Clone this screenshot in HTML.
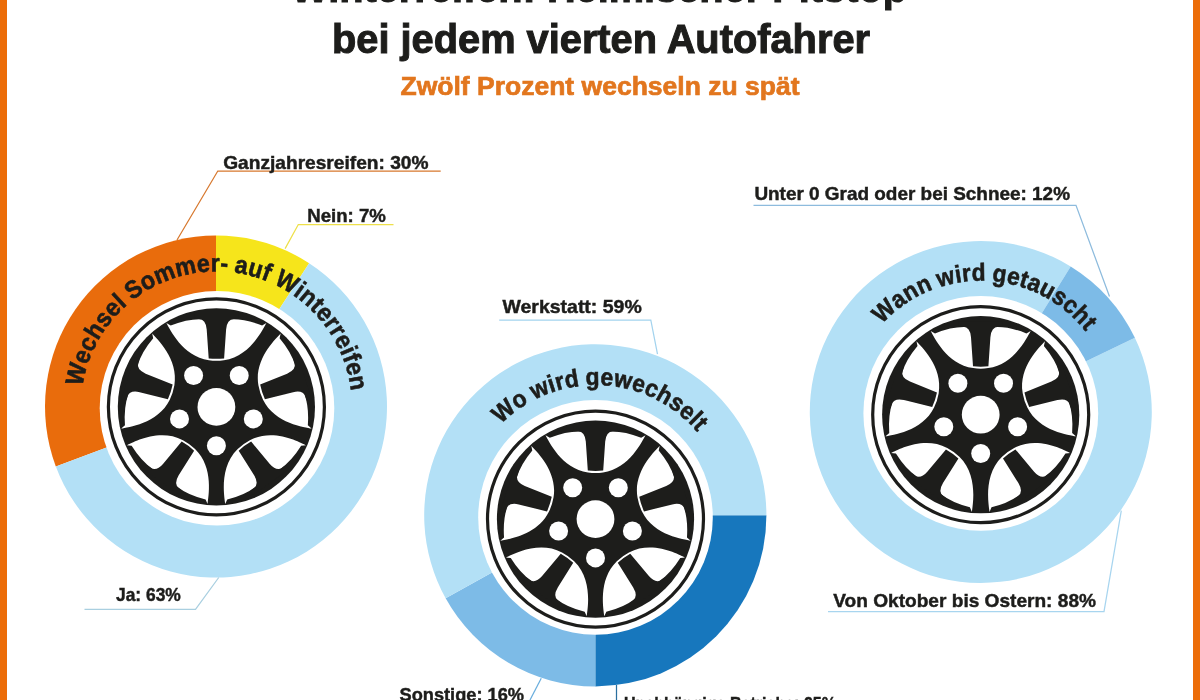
<!DOCTYPE html>
<html><head><meta charset="utf-8"><style>
html,body{margin:0;padding:0;background:#fff;width:1200px;height:700px;overflow:hidden}
svg{display:block;will-change:transform;font-family:"Liberation Sans",sans-serif;font-weight:bold}
</style></head><body>
<svg width="1200" height="700" viewBox="0 0 1200 700">

<defs>
<path id="winP" d="M50,-83.8 C46.95,-78.57 34.17,-50.39 7.5,-46.6 Q0,-45.5 -7.5,-46.6 C-34.17,-50.39 -46.95,-78.57 -50,-83.8 L-45.7,-81.3 Q-28.95,-88.1 -15.2,-87.7 L15.2,-87.7 Q28.95,-88.1 45.7,-81.3 Z"/>
<path id="spk" d="M-22,-93 L22,-93 L22,-87.9 L17.5,-87.9 Q10.6,-87.6 9.7,-77.5 L7.7,-48.5 Q0,-47.6 -7.7,-48.5 L-9.7,-77.5 Q-10.6,-87.6 -17.5,-87.9 L-22,-87.9 Z"/>
<g id="wheel">
<circle r="108" fill="none" stroke="#1d1d1b" stroke-width="3.2"/>
<circle r="98.6" fill="#1d1d1b"/>
<g fill="#fff">
<use href="#winP" transform="rotate(0)"/>
<use href="#winP" transform="rotate(72)"/>
<use href="#winP" transform="rotate(144)"/>
<use href="#winP" transform="rotate(216)"/>
<use href="#winP" transform="rotate(288)"/>
</g>
<g fill="#1d1d1b">
<use href="#spk" transform="rotate(0)"/>
<use href="#spk" transform="rotate(72)"/>
<use href="#spk" transform="rotate(144)"/>
<use href="#spk" transform="rotate(216)"/>
<use href="#spk" transform="rotate(288)"/>
</g>
<g fill="#fff">
<circle r="18.9"/>
<circle cx="22.81" cy="-31.39" r="9.5"/>
<circle cx="36.90" cy="11.99" r="9.5"/>
<circle cx="0.00" cy="38.80" r="9.5"/>
<circle cx="-36.90" cy="11.99" r="9.5"/>
<circle cx="-22.81" cy="-31.39" r="9.5"/>
</g>
</g>
</defs>

<path d="M216.00,406.60 L55.83,466.49 A171,171 0 0 1 216.00,235.60 Z" fill="#e96c0c"/>
<path d="M216.00,406.60 L216.00,235.60 A171,171 0 0 1 309.13,263.19 Z" fill="#f6e51b"/>
<path d="M216.00,406.60 L309.13,263.19 A171,171 0 1 1 55.83,466.49 Z" fill="#b3e0f6"/>
<circle cx="217" cy="408.3" r="117.3" fill="#fff"/>
<use href="#wheel" transform="translate(216.4,406.9)"/>
<path d="M595.30,515.30 L766.40,515.30 A171.1,171.1 0 0 1 595.30,686.40 Z" fill="#1777bd"/>
<path d="M595.30,515.30 L595.30,686.40 A171.1,171.1 0 0 1 445.65,598.25 Z" fill="#7dbbe7"/>
<path d="M595.30,515.30 L445.65,598.25 A171.1,171.1 0 1 1 766.40,515.30 Z" fill="#b3e0f6"/>
<circle cx="595.5" cy="517.4" r="117.3" fill="#fff"/>
<use href="#wheel" transform="translate(595.5,519.1)"/>
<path d="M980.80,412.00 L1134.88,337.84 A171,171 0 1 1 1070.66,266.51 Z" fill="#b3e0f6"/>
<path d="M980.80,412.00 L1070.66,266.51 A171,171 0 0 1 1134.88,337.84 Z" fill="#7dbbe7"/>
<circle cx="980.8" cy="413.4" r="117.4" fill="#fff"/>
<use href="#wheel" transform="translate(980.7,414.7)"/>
<g fill="#1d1d1b" stroke="#1d1d1b" stroke-width="0.6">
<text transform="translate(84.45,376.10) rotate(-76.86) scale(0.930,1)" text-anchor="middle" font-size="25">W</text>
<text transform="translate(89.58,359.19) rotate(-69.38) scale(0.930,1)" text-anchor="middle" font-size="25">e</text>
<text transform="translate(94.81,347.10) rotate(-63.81) scale(0.930,1)" text-anchor="middle" font-size="25">c</text>
<text transform="translate(101.53,335.04) rotate(-57.97) scale(0.930,1)" text-anchor="middle" font-size="25">h</text>
<text transform="translate(109.43,323.72) rotate(-52.13) scale(0.930,1)" text-anchor="middle" font-size="25">s</text>
<text transform="translate(118.02,313.73) rotate(-46.56) scale(0.930,1)" text-anchor="middle" font-size="25">e</text>
<text transform="translate(125.11,306.77) rotate(-42.36) scale(0.930,1)" text-anchor="middle" font-size="25">l</text>
<text transform="translate(138.34,296.15) rotate(-35.18) scale(0.930,1)" text-anchor="middle" font-size="25">S</text>
<text transform="translate(151.14,288.15) rotate(-28.79) scale(0.930,1)" text-anchor="middle" font-size="25">o</text>
<text transform="translate(167.15,280.67) rotate(-21.32) scale(0.930,1)" text-anchor="middle" font-size="25">m</text>
<text transform="translate(187.14,274.60) rotate(-12.47) scale(0.930,1)" text-anchor="middle" font-size="25">m</text>
<text transform="translate(203.97,271.97) rotate(-5.26) scale(0.930,1)" text-anchor="middle" font-size="25">e</text>
<text transform="translate(215.19,271.41) rotate(-0.51) scale(0.930,1)" text-anchor="middle" font-size="25">r</text>
<text transform="translate(223.83,271.60) rotate(3.14) scale(0.930,1)" text-anchor="middle" font-size="25">-</text>
<text transform="translate(240.04,273.48) rotate(10.05) scale(0.930,1)" text-anchor="middle" font-size="25">a</text>
<text transform="translate(253.49,276.58) rotate(15.89) scale(0.930,1)" text-anchor="middle" font-size="25">u</text>
<text transform="translate(264.14,280.09) rotate(20.63) scale(0.930,1)" text-anchor="middle" font-size="25">f</text>
<text transform="translate(283.00,288.90) rotate(29.44) scale(0.930,1)" text-anchor="middle" font-size="25">W</text>
<text transform="translate(295.18,296.66) rotate(35.55) scale(0.930,1)" text-anchor="middle" font-size="25">i</text>
<text transform="translate(303.54,303.14) rotate(40.02) scale(0.930,1)" text-anchor="middle" font-size="25">n</text>
<text transform="translate(311.82,310.70) rotate(44.77) scale(0.930,1)" text-anchor="middle" font-size="25">t</text>
<text transform="translate(319.04,318.44) rotate(49.24) scale(0.930,1)" text-anchor="middle" font-size="25">e</text>
<text transform="translate(326.01,327.24) rotate(53.99) scale(0.930,1)" text-anchor="middle" font-size="25">r</text>
<text transform="translate(331.21,334.94) rotate(57.92) scale(0.930,1)" text-anchor="middle" font-size="25">r</text>
<text transform="translate(336.78,344.69) rotate(62.67) scale(0.930,1)" text-anchor="middle" font-size="25">e</text>
<text transform="translate(341.01,353.69) rotate(66.88) scale(0.930,1)" text-anchor="middle" font-size="25">i</text>
<text transform="translate(343.71,360.52) rotate(69.98) scale(0.930,1)" text-anchor="middle" font-size="25">f</text>
<text transform="translate(346.94,370.59) rotate(74.46) scale(0.930,1)" text-anchor="middle" font-size="25">e</text>
<text transform="translate(349.96,384.06) rotate(80.30) scale(0.930,1)" text-anchor="middle" font-size="25">n</text>
<text transform="translate(508.65,417.06) rotate(-40.40) scale(0.930,1)" text-anchor="middle" font-size="24.5">W</text>
<text transform="translate(523.11,406.34) rotate(-32.70) scale(0.930,1)" text-anchor="middle" font-size="24.5">o</text>
<text transform="translate(542.34,396.10) rotate(-23.37) scale(0.930,1)" text-anchor="middle" font-size="24.5">w</text>
<text transform="translate(553.87,391.73) rotate(-18.10) scale(0.930,1)" text-anchor="middle" font-size="24.5">i</text>
<text transform="translate(561.44,389.50) rotate(-14.72) scale(0.930,1)" text-anchor="middle" font-size="24.5">r</text>
<text transform="translate(572.87,387.02) rotate(-9.72) scale(0.930,1)" text-anchor="middle" font-size="24.5">d</text>
<text transform="translate(592.67,385.13) rotate(-1.21) scale(0.930,1)" text-anchor="middle" font-size="24.5">g</text>
<text transform="translate(606.26,385.53) rotate(4.60) scale(0.930,1)" text-anchor="middle" font-size="24.5">e</text>
<text transform="translate(621.60,387.67) rotate(11.23) scale(0.930,1)" text-anchor="middle" font-size="24.5">w</text>
<text transform="translate(636.60,391.56) rotate(17.86) scale(0.930,1)" text-anchor="middle" font-size="24.5">e</text>
<text transform="translate(648.73,396.13) rotate(23.41) scale(0.930,1)" text-anchor="middle" font-size="24.5">c</text>
<text transform="translate(660.91,402.15) rotate(29.22) scale(0.930,1)" text-anchor="middle" font-size="24.5">h</text>
<text transform="translate(672.42,409.38) rotate(35.03) scale(0.930,1)" text-anchor="middle" font-size="24.5">s</text>
<text transform="translate(682.67,417.33) rotate(40.58) scale(0.930,1)" text-anchor="middle" font-size="24.5">e</text>
<text transform="translate(689.88,423.97) rotate(44.77) scale(0.930,1)" text-anchor="middle" font-size="24.5">l</text>
<text transform="translate(694.89,429.22) rotate(47.88) scale(0.930,1)" text-anchor="middle" font-size="24.5">t</text>
<text transform="translate(889.31,316.70) rotate(-43.00) scale(0.930,1)" text-anchor="middle" font-size="24.5">W</text>
<text transform="translate(902.73,305.72) rotate(-35.58) scale(0.930,1)" text-anchor="middle" font-size="24.5">a</text>
<text transform="translate(914.14,298.40) rotate(-29.78) scale(0.930,1)" text-anchor="middle" font-size="24.5">n</text>
<text transform="translate(926.79,292.02) rotate(-23.72) scale(0.930,1)" text-anchor="middle" font-size="24.5">n</text>
<text transform="translate(947.32,284.92) rotate(-14.43) scale(0.930,1)" text-anchor="middle" font-size="24.5">w</text>
<text transform="translate(959.34,282.41) rotate(-9.17) scale(0.930,1)" text-anchor="middle" font-size="24.5">i</text>
<text transform="translate(967.14,281.39) rotate(-5.81) scale(0.930,1)" text-anchor="middle" font-size="24.5">r</text>
<text transform="translate(978.77,280.71) rotate(-0.82) scale(0.930,1)" text-anchor="middle" font-size="24.5">d</text>
<text transform="translate(998.55,281.89) rotate(7.66) scale(0.930,1)" text-anchor="middle" font-size="24.5">g</text>
<text transform="translate(1011.88,284.38) rotate(13.45) scale(0.930,1)" text-anchor="middle" font-size="24.5">e</text>
<text transform="translate(1021.88,287.19) rotate(17.90) scale(0.930,1)" text-anchor="middle" font-size="24.5">t</text>
<text transform="translate(1031.64,290.76) rotate(22.34) scale(0.930,1)" text-anchor="middle" font-size="24.5">a</text>
<text transform="translate(1043.90,296.54) rotate(28.14) scale(0.930,1)" text-anchor="middle" font-size="24.5">u</text>
<text transform="translate(1055.51,303.53) rotate(33.94) scale(0.930,1)" text-anchor="middle" font-size="24.5">s</text>
<text transform="translate(1065.88,311.26) rotate(39.47) scale(0.930,1)" text-anchor="middle" font-size="24.5">c</text>
<text transform="translate(1075.89,320.39) rotate(45.27) scale(0.930,1)" text-anchor="middle" font-size="24.5">h</text>
<text transform="translate(1083.32,328.53) rotate(49.98) scale(0.930,1)" text-anchor="middle" font-size="24.5">t</text>
</g>
<path d="M440.7,171 L217.8,171 L177,240" fill="none" stroke="#d7782e" stroke-width="1.25"/>
<path d="M393.5,224.5 L298.3,224.5 L285.1,248.6" fill="none" stroke="#eee04a" stroke-width="1.25"/>
<path d="M84.5,609.3 L195.5,609.3 L218.75,577.5" fill="none" stroke="#a9cfe0" stroke-width="1.25"/>
<path d="M499.2,320 L650.8,320 L657.5,354.2" fill="none" stroke="#a3d3ee" stroke-width="1.25"/>
<path d="M541.25,678.25 L530,700" fill="none" stroke="#6aaedd" stroke-width="1.25"/>
<path d="M616.5,685 L616.5,700" fill="none" stroke="#2a6f9f" stroke-width="1.25"/>
<path d="M753.5,205.4 L1076,205.4 L1109.5,296.5" fill="none" stroke="#8dbbdd" stroke-width="1.25"/>
<path d="M828,611.5 L1104,611.5 L1121.3,510.7" fill="none" stroke="#a8d5ef" stroke-width="1.25"/>
<g fill="#1d1d1b">
<text x="223.2" y="168.5" font-size="18.5" textLength="205.3" lengthAdjust="spacingAndGlyphs" fill="#1d1d1b" stroke="#1d1d1b" stroke-width="0.45">Ganzjahresreifen: 30%</text>
<text x="307.2" y="221.7" font-size="18.5" textLength="78.6" lengthAdjust="spacingAndGlyphs" fill="#1d1d1b" stroke="#1d1d1b" stroke-width="0.45">Nein: 7%</text>
<text x="116" y="600.75" font-size="18.5" textLength="64.8" lengthAdjust="spacingAndGlyphs" fill="#1d1d1b" stroke="#1d1d1b" stroke-width="0.45">Ja: 63%</text>
<text x="502.5" y="313.3" font-size="18.5" textLength="139.2" lengthAdjust="spacingAndGlyphs" fill="#1d1d1b" stroke="#1d1d1b" stroke-width="0.45">Werkstatt: 59%</text>
<text x="399.5" y="700.6" font-size="18.5" textLength="124.5" lengthAdjust="spacingAndGlyphs" fill="#1d1d1b" stroke="#1d1d1b" stroke-width="0.45">Sonstige: 16%</text>
<text x="624" y="709.5" font-size="18.5" textLength="212.0" lengthAdjust="spacingAndGlyphs" fill="#1d1d1b" stroke="#1d1d1b" stroke-width="0.45">Unabhängige Betriebe: 25%</text>
<text x="754.4" y="200" font-size="18.5" textLength="315.6" lengthAdjust="spacingAndGlyphs" fill="#1d1d1b" stroke="#1d1d1b" stroke-width="0.45">Unter 0 Grad oder bei Schnee: 12%</text>
<text x="833.3" y="606.7" font-size="18.5" textLength="262.7" lengthAdjust="spacingAndGlyphs" fill="#1d1d1b" stroke="#1d1d1b" stroke-width="0.45">Von Oktober bis Ostern: 88%</text>
</g>
<text x="291" y="1.9" font-size="40" textLength="616.0" lengthAdjust="spacingAndGlyphs" fill="#1d1d1b" stroke="#1d1d1b" stroke-width="1.0">Winterreifen: Heimischer Pitstop</text>
<text x="332" y="53.25" font-size="40" textLength="538.0" lengthAdjust="spacingAndGlyphs" fill="#1d1d1b" stroke="#1d1d1b" stroke-width="1.0">bei jedem vierten Autofahrer</text>
<text x="400.5" y="94.5" font-size="26.5" textLength="399.0" lengthAdjust="spacingAndGlyphs" fill="#e2761e" stroke="#e2761e" stroke-width="0.7">Zwölf Prozent wechseln zu spät</text>
<rect x="0" y="0" width="7" height="700" fill="#ec6d08"/>
<rect x="1193" y="0" width="7" height="700" fill="#ec6d08"/>
</svg>
</body></html>
